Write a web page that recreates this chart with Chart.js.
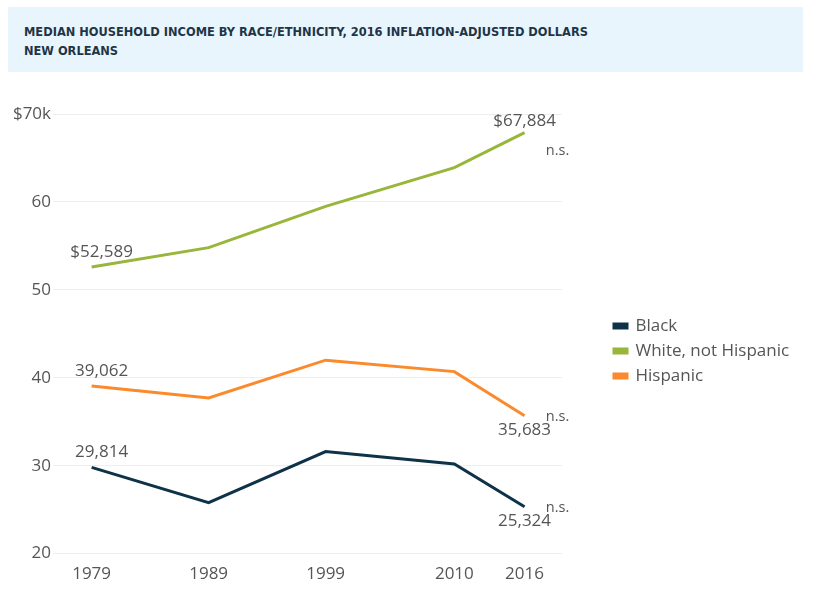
<!DOCTYPE html>
<html>
<head>
<meta charset="utf-8">
<script src="https://cdn.jsdelivr.net/npm/chart.js@4.4.1/dist/chart.umd.min.js"></script>
<style>
  html, body { margin: 0; padding: 0; background: #fff; }
  body { width: 818px; height: 612px; position: relative; overflow: hidden; }
  .title-box {
    position: absolute; left: 8px; top: 7px; width: 795px; height: 65px;
    background: #e8f5fd;
  }
  .title-box div {
    position: absolute; left: 16px;
    font-family: "Liberation Sans Narrow", "DejaVu Sans Condensed", "Open Sans", sans-serif;
    font-weight: bold; font-size: 12.7px; color: #1f3547; white-space: nowrap;
  }
  .chart-wrap { position: absolute; left: 0; top: 80px; width: 818px; height: 532px; }
</style>
</head>
<body>
<div class="title-box">
  <div style="top: 17px;">MEDIAN HOUSEHOLD INCOME BY RACE/ETHNICITY, 2016 INFLATION-ADJUSTED DOLLARS</div>
  <div style="top: 36px;">NEW ORLEANS</div>
</div>
<div class="chart-wrap"><canvas id="chart"></canvas></div>
<script>
// years on x, values in thousands of dollars
const years = [1979, 1989, 1999, 2010, 2016];
const blackValues = [29.814, 25.8, 31.6, 30.2, 25.324];
const whiteValues = [52.589, 54.8, 59.5, 63.9, 67.884];
const hispanicValues = [39.062, 37.7, 42.0, 40.7, 35.683];
const yTicks = [20, 30, 40, 50, 60, 70];

const seriesNames = ["Black", "White, not Hispanic", "Hispanic"];
const seriesColors = ["#0e3247", "#97b63a", "#fb8a2c"];
const dollarPrefix = ["", "$", ""];
const notSignificant = [true, true, true];

const fontFamily = "'Open Sans', 'Noto Sans', sans-serif";
const textColor = "#555";

function fmt(v, prefix) {
  return prefix + Math.round(v * 1000).toLocaleString("en-US");
}

// first/last value labels and the n.s. notes
const endLabels = {
  id: "endLabels",
  afterDatasetsDraw(chart) {
    const ctx = chart.ctx;
    ctx.save();
    ctx.fillStyle = textColor;
    ctx.textAlign = "center";
    ctx.textBaseline = "middle";
    chart.data.datasets.forEach((ds, i) => {
      const pts = chart.getDatasetMeta(i).data;
      const first = pts[0];
      const last = pts[pts.length - 1];
      const prefix = dollarPrefix[i];
      ctx.font = "17px " + fontFamily;
      ctx.fillText(fmt(ds.data[0].y, prefix), first.x + 10, first.y - 15);
      // white ends above its point, others below
      const above = i === 1;
      ctx.fillText(fmt(ds.data[ds.data.length - 1].y, prefix), last.x, above ? last.y - 11 : last.y + 14);
      if (notSignificant[i]) {
        ctx.font = "14.5px " + fontFamily;
        ctx.fillText("n.s.", last.x + 33, above ? last.y + 18 : last.y + 1);
      }
    });
    ctx.restore();
  },
};

// legend takes the space right of the plot, then is drawn a bit further right
const legendPlace = {
  id: "legendPlace",
  beforeLayout(chart) {
    const lg = chart.legend;
    if (lg && !lg._wrapped) {
      const fit = lg.fit;
      lg.fit = function () {
        fit.call(this);
        this.width = 256;
      };
      lg._wrapped = true;
    }
  },
  afterLayout(chart) {
    const lg = chart.legend;
    const dx = 606 - lg.left;
    lg.left += dx;
    lg.right += dx;
    lg.top -= 3;
    lg.bottom -= 3;
  },
};

const makeSet = (i, values) => ({
  label: seriesNames[i],
  data: years.map((x, k) => ({ x: x, y: values[k] })),
  borderColor: seriesColors[i],
  backgroundColor: seriesColors[i],
  borderWidth: 3,
  pointRadius: 0,
  tension: 0,
});

new Chart(document.getElementById("chart"), {
  type: "line",
  data: {
    datasets: [
      makeSet(0, blackValues),
      makeSet(1, whiteValues),
      makeSet(2, hispanicValues),
    ],
  },
  options: {
    responsive: true,
    maintainAspectRatio: false,
    animation: false,
    layout: { padding: { top: 34, left: 10, right: 0, bottom: 18 } },
    plugins: {
      legend: {
        position: "right",
        labels: {
          boxWidth: 13,
          boxHeight: 4,
          padding: 8,
          color: textColor,
          font: { family: fontFamily, size: 17 },
        },
      },
      tooltip: { enabled: false },
    },
    scales: {
      x: {
        type: "linear",
        min: 1975.7,
        max: 2019.2,
        afterBuildTicks: (scale) => {
          scale.ticks = years.map((v) => ({ value: v }));
        },
        ticks: {
          callback: (v) => String(v),
          color: textColor,
          padding: 10,
          maxRotation: 0,
          autoSkip: false,
          font: { family: fontFamily, size: 17 },
        },
        grid: { display: false, drawTicks: false },
        border: { display: false },
      },
      y: {
        min: 20,
        max: 70,
        afterBuildTicks: (scale) => {
          scale.ticks = yTicks.map((v) => ({ value: v }));
        },
        afterFit: (scale) => {
          scale.width = 43;
        },
        ticks: {
          callback: (v) => (v === 70 ? "$70k" : String(v)),
          color: textColor,
          padding: 2,
          font: { family: fontFamily, size: 17 },
        },
        grid: { color: "#eeeeee", drawTicks: false },
        border: { display: false },
      },
    },
  },
  plugins: [endLabels, legendPlace],
});
</script>
</body>
</html>
